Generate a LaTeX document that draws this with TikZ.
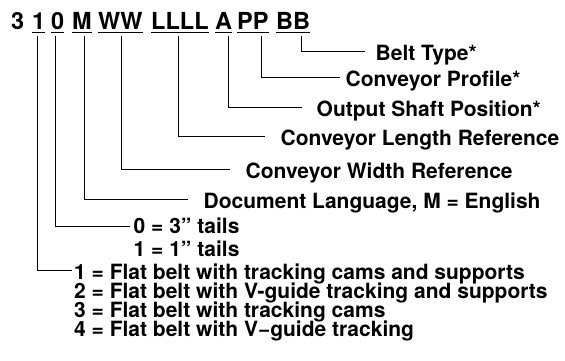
\documentclass[tikz,border=0pt]{standalone}
\usepackage{fontspec}
\setmainfont{TeX Gyre Heros}
\begin{document}
\begin{tikzpicture}[x=1pt,y=-1pt,
  hdr/.style={font=\fontsize{23.5}{24}\selectfont\bfseries, inner sep=0pt, anchor=base west},
  lbl/.style={font=\fontsize{21}{21}\selectfont\bfseries, inner sep=0pt, anchor=base west},
  conn/.style={line width=0.9pt},
  uline/.style={line width=1.6pt}]
\useasboundingbox (0,0) rectangle (565,360);
% header
\node[hdr] (h3) at (11,29.5) {3};
\node[hdr] (h1) at (32,29.5) {1};
\node[hdr] (h0) at (51,29.5) {0};
\node[hdr] (hM) at (72,29.5) {M};
\node[hdr] (hW) at (98,29.5) {WW};
\node[hdr] (hL) at (151,29.5) {LLLL};
\node[hdr] (hA) at (215,29.5) {A};
\node[hdr] (hP) at (237,29.5) {PP};
\node[hdr] (hB) at (276,29.5) {BB};
\foreach \t in {h1,h0,hM,hW,hL,hA,hP,hB}
  \draw[uline] ([yshift=-3pt]\t.base west) -- ([yshift=-3pt]\t.base east);
% labels
\node[lbl] (lB) at (375.5,60) {Belt Type*};
\node[lbl] (lP) at (345.5,86.5) {Conveyor Profile*};
\node[lbl] (lA) at (316.5,116.5) {Output Shaft Position*};
\node[lbl] (lL) at (280.5,145) {Conveyor Length Reference};
\node[lbl] (lW) at (245.5,178) {Conveyor Width Reference};
\node[lbl] (lM) at (203.5,208.5) {Document Language, M = English};
\node[lbl] (l0a) at (133.5,233) {0 = 3” tails};
\node[lbl] (l0b) at (133.5,256) {1 = 1” tails};
\node[lbl] (f1) at (74,279) {1 = Flat belt with tracking cams and supports};
\node[lbl] (f2) at (74,298) {2 = Flat belt with V-guide tracking and supports};
\node[lbl] (f3) at (74,317) {3 = Flat belt with tracking cams};
\node[lbl] (f4) at (74,336) {4 = Flat belt with V−guide tracking};
% connector coordinates
\coordinate (sB) at (301,35.5);   \coordinate (eB) at (365,51);
\coordinate (sP) at (261.7,35.5); \coordinate (eP) at (340,77);
\coordinate (sA) at (228,35.5);   \coordinate (eA) at (302,107);
\coordinate (sL) at (178,35.5);   \coordinate (eL) at (265,136);
\coordinate (sW) at (121.7,35.5); \coordinate (eW) at (230,169);
\coordinate (sM) at (84,35.5);    \coordinate (eM) at (188,199.5);
\coordinate (s0) at (55.7,35.5);  \coordinate (e0) at (130,226.5);
\coordinate (s1) at (37,35.5);    \coordinate (e1) at (72,270);
\foreach \a in {B,P,A,L,W,M,0,1}
  \draw[conn] (s\a) |- (e\a);
\end{tikzpicture}
\end{document}
